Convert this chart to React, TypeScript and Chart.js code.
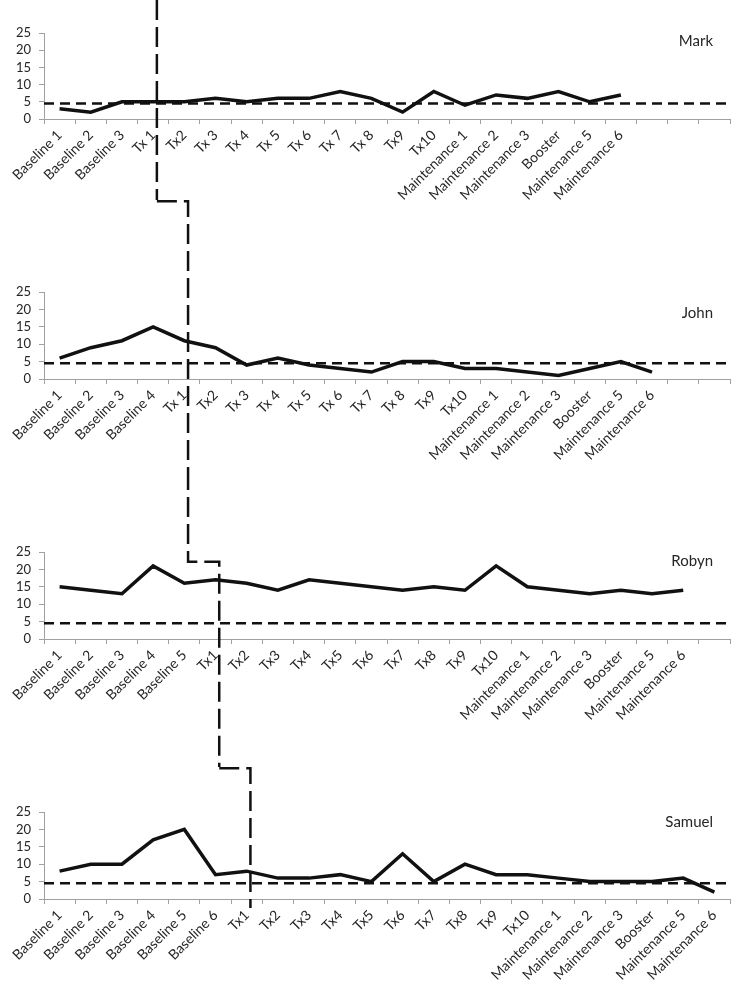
import React, { useEffect, useRef } from 'react';
import { Chart, registerables } from 'chart.js';

Chart.register(...registerables);

// ---------- data ----------
const SLOTS = 22;
const REF_LEVEL = 4.5;
const Y_MAX = 25;
const Y_STEP = 5;

const markLabels = ['Baseline 1', 'Baseline 2', 'Baseline 3', 'Tx 1', 'Tx2', 'Tx 3', 'Tx 4', 'Tx 5', 'Tx 6', 'Tx 7', 'Tx 8', 'Tx9', 'Tx10', 'Maintenance 1', 'Maintenance 2', 'Maintenance 3', 'Booster', 'Maintenance 5', 'Maintenance 6'];
const markValues = [3, 2, 5, 5, 5, 6, 5, 6, 6, 8, 6, 2, 8, 4, 7, 6, 8, 5, 7];

const johnLabels = ['Baseline 1', 'Baseline 2', 'Baseline 3', 'Baseline 4', 'Tx 1', 'Tx2', 'Tx 3', 'Tx 4', 'Tx 5', 'Tx 6', 'Tx 7', 'Tx 8', 'Tx9', 'Tx10', 'Maintenance 1', 'Maintenance 2', 'Maintenance 3', 'Booster', 'Maintenance 5', 'Maintenance 6'];
const johnValues = [6, 9, 11, 15, 11, 9, 4, 6, 4, 3, 2, 5, 5, 3, 3, 2, 1, 3, 5, 2];

const robynLabels = ['Baseline 1', 'Baseline 2', 'Baseline 3', 'Baseline 4', 'Baseline 5', 'Tx1', 'Tx2', 'Tx3', 'Tx4', 'Tx5', 'Tx6', 'Tx7', 'Tx8', 'Tx9', 'Tx10', 'Maintenance 1', 'Maintenance 2', 'Maintenance 3', 'Booster', 'Maintenance 5', 'Maintenance 6'];
const robynValues = [15, 14, 13, 21, 16, 17, 16, 14, 17, 16, 15, 14, 15, 14, 21, 15, 14, 13, 14, 13, 14];

const samuelLabels = ['Baseline 1', 'Baseline 2', 'Baseline 3', 'Baseline 4', 'Baseline 5', 'Baseline 6', 'Tx1', 'Tx2', 'Tx3', 'Tx4', 'Tx5', 'Tx6', 'Tx7', 'Tx8', 'Tx9', 'Tx10', 'Maintenance 1', 'Maintenance 2', 'Maintenance 3', 'Booster', 'Maintenance 5', 'Maintenance 6'];
const samuelValues = [8, 10, 10, 17, 20, 7, 8, 6, 6, 7, 5, 13, 5, 10, 7, 7, 6, 5, 5, 5, 6, 2];

const names = ['Mark', 'John', 'Robyn', 'Samuel'];

// ---------- layout (page px) ----------
type Panel = {
  name: string;
  labels: string[];
  values: number[];
  top: number;
  height: number;
  padTop: number;
  axisH: number;
  nameValue: number;
  prevLabels?: string[];
  stepValue?: number;
  endBelowAxis?: number;
};

const panels: Panel[] = [
  { name: names[0], labels: markLabels, values: markValues, top: 0, height: 200, padTop: 33, axisH: 81, nameValue: 22.7 },
  { name: names[1], labels: johnLabels, values: johnValues, top: 200, height: 270, padTop: 92, axisH: 91, nameValue: 19, prevLabels: markLabels },
  { name: names[2], labels: robynLabels, values: robynValues, top: 470, height: 297, padTop: 82, axisH: 128, nameValue: 22.3, prevLabels: johnLabels, stepValue: 22.2 },
  { name: names[3], labels: samuelLabels, values: samuelValues, top: 767, height: 217, padTop: 45, axisH: 85, nameValue: 22.1, prevLabels: robynLabels, endBelowAxis: 9 },
];

const tx1Index = (labels: string[]) => labels.findIndex((l) => l.replace(/\s/g, '') === 'Tx1');

const AXIS_COLOR = '#a0a0a0';
const TEXT_COLOR = '#262626';
const LINE_COLOR = '#111111';

function PanelChart({ p }: { p: Panel }) {
  const ref = useRef<HTMLCanvasElement | null>(null);

  useEffect(() => {
    if (!ref.current) return;
    const labels = [...p.labels];
    while (labels.length < SLOTS) labels.push('');

    const overlay = {
      id: 'overlay',
      afterDatasetsDraw(chart: any) {
        const { ctx, chartArea, scales } = chart;
        const x = scales.x;
        const y = scales.y;
        const slot = (chartArea.right - chartArea.left) / SLOTS;
        const px = (i: number) => x.getPixelForValue(i) + 0.12 * slot;
        ctx.save();
        // reference level
        ctx.strokeStyle = LINE_COLOR;
        ctx.lineWidth = 2.5;
        ctx.setLineDash([10, 6]);
        const ry = y.getPixelForValue(REF_LEVEL);
        ctx.beginPath();
        ctx.moveTo(chartArea.left, ry);
        ctx.lineTo(chartArea.right, ry);
        ctx.stroke();

        // phase change line
        ctx.setLineDash([20, 7]);
        ctx.lineWidth = 2.5;
        const cur = px(tx1Index(p.labels));
        const end = p.endBelowAxis != null ? chartArea.bottom + p.endBelowAxis : chart.height;
        ctx.beginPath();
        if (!p.prevLabels) {
          ctx.moveTo(cur, 0);
          ctx.lineTo(cur, end);
        } else if (p.stepValue != null) {
          const prev = px(tx1Index(p.prevLabels));
          const sy = y.getPixelForValue(p.stepValue);
          ctx.moveTo(prev, 0);
          ctx.lineTo(prev, sy);
          ctx.lineTo(cur, sy);
          ctx.lineTo(cur, end);
        } else {
          const prev = px(tx1Index(p.prevLabels));
          ctx.moveTo(prev, 1.25);
          ctx.lineTo(cur, 1.25);
          ctx.lineTo(cur, end);
        }
        ctx.stroke();

        // participant name
        ctx.setLineDash([]);
        ctx.fillStyle = TEXT_COLOR;
        ctx.font = '15px Lato';
        ctx.textAlign = 'right';
        ctx.textBaseline = 'middle';
        ctx.fillText(p.name, chartArea.right - 17, y.getPixelForValue(p.nameValue));
        ctx.restore();
      },
    };

    const chart = new Chart(ref.current, {
      type: 'line',
      data: {
        labels,
        datasets: [
          {
            data: p.values,
            borderColor: LINE_COLOR,
            borderWidth: 3.5,
            pointRadius: 0,
            tension: 0,
            fill: false,
          },
        ],
      },
      options: {
        animation: false,
        responsive: false,
        devicePixelRatio: 1,
        layout: { padding: { top: p.padTop, right: 17, left: 0, bottom: 0 } },
        plugins: { legend: { display: false }, tooltip: { enabled: false } },
        scales: {
          x: {
            type: 'category',
            offset: true,
            grid: { display: true, drawOnChartArea: false, drawTicks: true, tickLength: 5, color: AXIS_COLOR, offset: true },
            border: { display: true, color: AXIS_COLOR, width: 1 },
            ticks: {
              autoSkip: false,
              maxRotation: 45,
              minRotation: 45,
              padding: 3,
              color: TEXT_COLOR,
              font: { family: 'Lato', size: 14 },
            },
            afterFit: (scale: any) => {
              scale.height = p.axisH;
            },
          },
          y: {
            type: 'linear',
            min: 0,
            max: Y_MAX,
            grid: { display: true, drawOnChartArea: false, drawTicks: true, tickLength: 5, color: AXIS_COLOR },
            border: { display: true, color: AXIS_COLOR, width: 1 },
            ticks: {
              stepSize: Y_STEP,
              autoSkip: false,
              padding: 8,
              color: TEXT_COLOR,
              font: { family: 'Lato', size: 13 },
            },
            afterFit: (scale: any) => {
              scale.width = 44;
            },
          },
        },
      },
      plugins: [overlay],
    });
    return () => chart.destroy();
  }, [p]);

  return (
    <canvas
      ref={ref}
      width={747}
      height={p.height}
      style={{ position: 'absolute', left: 0, top: p.top, width: 747, height: p.height }}
    />
  );
}

export default function App() {
  return (
    <div style={{ position: 'absolute', left: 0, top: 0, width: 747, height: 984, background: '#ffffff', overflow: 'hidden' }}>
      {panels.map((p) => (
        <PanelChart key={p.name} p={p} />
      ))}
    </div>
  );
}
